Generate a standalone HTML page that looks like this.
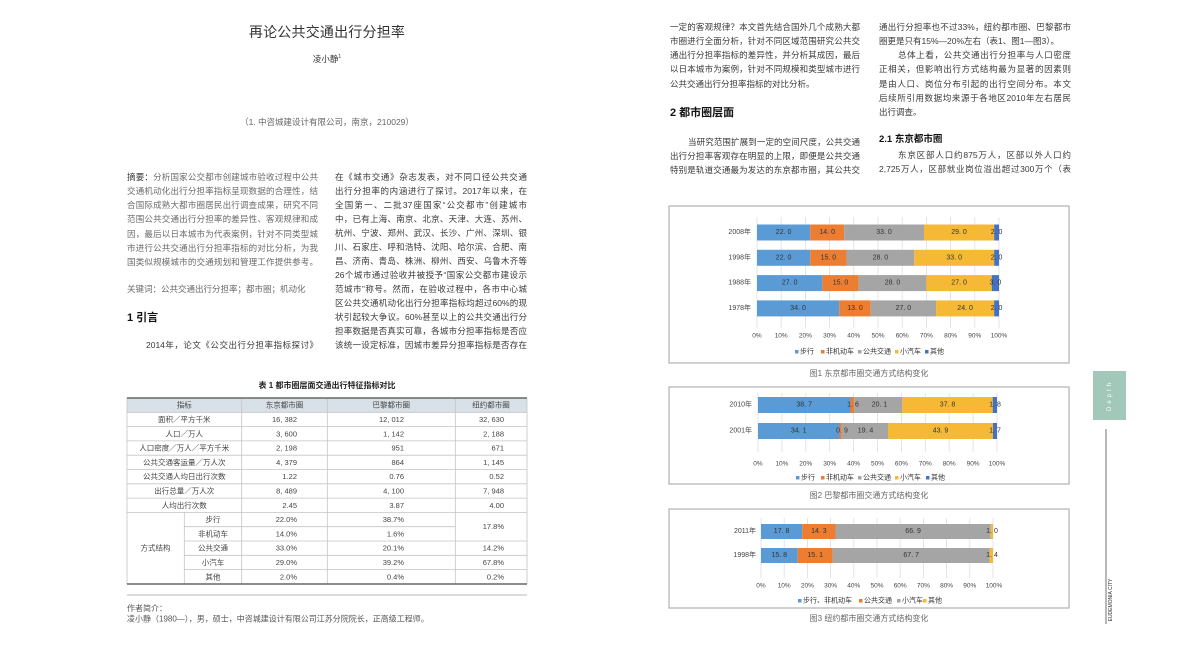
<!DOCTYPE html>
<html><head><meta charset="utf-8">
<style>
html,body{margin:0;padding:0;background:#fff;}
body{width:1196px;height:656px;position:relative;overflow:hidden;font-family:"Liberation Sans","Noto Sans CJK SC",sans-serif;color:#3a3a3a;}
.j{position:absolute;height:14px;line-height:14px;font-size:8.5px;text-align:justify;text-align-last:justify;overflow:hidden;white-space:normal;}
.l{position:absolute;height:14px;line-height:14px;font-size:8.5px;white-space:nowrap;}
.g{color:#6a6a6a;}
.h{position:absolute;height:14px;line-height:14px;font-weight:bold;color:#111;white-space:nowrap;}
svg{position:absolute;left:0;top:0;}
svg text{font-family:"Liberation Sans","Noto Sans CJK SC",sans-serif;}
</style></head><body>

<svg width="1196" height="656" viewBox="0 0 1196 656">
<!-- ================= TABLE ================= -->
<text x="327" y="388" font-size="8" font-weight="bold" fill="#222" text-anchor="middle">表 1  都市圈层面交通出行特征指标对比</text>
<rect x="127" y="398" width="400" height="14.3" fill="#d8e1e8"/>
<g stroke="#c4c4c4" stroke-width="0.8">
<line x1="127" y1="412.3" x2="527" y2="412.3"/>
<line x1="127" y1="426.6" x2="527" y2="426.6"/>
<line x1="127" y1="440.9" x2="527" y2="440.9"/>
<line x1="127" y1="455.2" x2="527" y2="455.2"/>
<line x1="127" y1="469.5" x2="527" y2="469.5"/>
<line x1="127" y1="483.8" x2="527" y2="483.8"/>
<line x1="127" y1="498.1" x2="527" y2="498.1"/>
<line x1="127" y1="512.4" x2="527" y2="512.4"/>
<line x1="184.3" y1="526.7" x2="455.3" y2="526.7"/>
<line x1="184.3" y1="541.0" x2="527" y2="541.0"/>
<line x1="184.3" y1="555.3" x2="527" y2="555.3"/>
<line x1="184.3" y1="569.6" x2="527" y2="569.6"/>
<line x1="127" y1="398" x2="127" y2="584"/>
<line x1="527" y1="398" x2="527" y2="584"/>
<line x1="241.7" y1="398" x2="241.7" y2="584"/>
<line x1="327.3" y1="398" x2="327.3" y2="584"/>
<line x1="455.3" y1="398" x2="455.3" y2="584"/>
<line x1="184.3" y1="512.4" x2="184.3" y2="584"/>
</g>
<line x1="127" y1="398" x2="527" y2="398" stroke="#666" stroke-width="1.5"/>
<line x1="127" y1="584" x2="527" y2="584" stroke="#666" stroke-width="1.5"/>
<g font-size="7.5" fill="#444" dominant-baseline="central">
<g text-anchor="middle">
<text x="184.3" y="405.15">指标</text>
<text x="284.5" y="405.15">东京都市圈</text>
<text x="391.3" y="405.15">巴黎都市圈</text>
<text x="491" y="405.15">纽约都市圈</text>
<text x="184.3" y="419.45">面积／平方千米</text>
<text x="184.3" y="433.75">人口／万人</text>
<text x="184.3" y="448.05">人口密度／万人／平方千米</text>
<text x="184.3" y="462.35">公共交通客运量／万人次</text>
<text x="184.3" y="476.65">公共交通人均日出行次数</text>
<text x="184.3" y="490.95">出行总量／万人次</text>
<text x="184.3" y="505.25">人均出行次数</text>
<text x="155.5" y="548.15">方式结构</text>
<text x="213" y="519.55">步行</text>
<text x="213" y="533.85">非机动车</text>
<text x="213" y="548.15">公共交通</text>
<text x="213" y="562.45">小汽车</text>
<text x="213" y="576.75">其他</text>
</g>
<g text-anchor="end">
<text x="297" y="419.45">16, 382</text><text x="404" y="419.45">12, 012</text><text x="504" y="419.45">32, 630</text>
<text x="297" y="433.75">3, 600</text><text x="404" y="433.75">1, 142</text><text x="504" y="433.75">2, 188</text>
<text x="297" y="448.05">2, 198</text><text x="404" y="448.05">951</text><text x="504" y="448.05">671</text>
<text x="297" y="462.35">4, 379</text><text x="404" y="462.35">864</text><text x="504" y="462.35">1, 145</text>
<text x="297" y="476.65">1.22</text><text x="404" y="476.65">0.76</text><text x="504" y="476.65">0.52</text>
<text x="297" y="490.95">8, 489</text><text x="404" y="490.95">4, 100</text><text x="504" y="490.95">7, 948</text>
<text x="297" y="505.25">2.45</text><text x="404" y="505.25">3.87</text><text x="504" y="505.25">4.00</text>
<text x="297" y="519.55">22.0%</text><text x="404" y="519.55">38.7%</text><text x="504" y="526.7">17.8%</text>
<text x="297" y="533.85">14.0%</text><text x="404" y="533.85">1.6%</text>
<text x="297" y="548.15">33.0%</text><text x="404" y="548.15">20.1%</text><text x="504" y="548.15">14.2%</text>
<text x="297" y="562.45">29.0%</text><text x="404" y="562.45">39.2%</text><text x="504" y="562.45">67.8%</text>
<text x="297" y="576.75">2.0%</text><text x="404" y="576.75">0.4%</text><text x="504" y="576.75">0.2%</text>
</g>
</g>
<line x1="127" y1="595" x2="527" y2="595" stroke="#dcdcdc" stroke-width="2"/>
<text x="127" y="611" font-size="8" fill="#555">作者简介：</text>
<text x="127" y="621.5" font-size="8" fill="#555">凌小静（1980—），男，硕士，中咨城建设计有限公司江苏分院院长，正高级工程师。</text>

<!-- ================= CHART 1 ================= -->
<rect x="669" y="206" width="400" height="157" fill="#fff" stroke="#b0b0b0" stroke-width="1.2"/>
<g stroke="#dedede" stroke-width="0.8">
<line x1="757" y1="217" x2="757" y2="328"/><line x1="781.2" y1="217" x2="781.2" y2="328"/><line x1="805.4" y1="217" x2="805.4" y2="328"/><line x1="829.6" y1="217" x2="829.6" y2="328"/><line x1="853.8" y1="217" x2="853.8" y2="328"/><line x1="878" y1="217" x2="878" y2="328"/><line x1="902.2" y1="217" x2="902.2" y2="328"/><line x1="926.4" y1="217" x2="926.4" y2="328"/><line x1="950.6" y1="217" x2="950.6" y2="328"/><line x1="974.8" y1="217" x2="974.8" y2="328"/><line x1="999" y1="217" x2="999" y2="328"/>
</g>
<g>
<rect x="757" y="224.5" width="53.24" height="16" fill="#5b9bd5"/><rect x="810.24" y="224.5" width="33.88" height="16" fill="#ed7d31"/><rect x="844.12" y="224.5" width="79.86" height="16" fill="#a5a5a5"/><rect x="923.98" y="224.5" width="70.18" height="16" fill="#f5b935"/><rect x="994.16" y="224.5" width="4.84" height="16" fill="#4472c4"/>
<rect x="757" y="249.8" width="53.24" height="16" fill="#5b9bd5"/><rect x="810.24" y="249.8" width="36.3" height="16" fill="#ed7d31"/><rect x="846.54" y="249.8" width="67.76" height="16" fill="#a5a5a5"/><rect x="914.3" y="249.8" width="79.86" height="16" fill="#f5b935"/><rect x="994.16" y="249.8" width="4.84" height="16" fill="#4472c4"/>
<rect x="757" y="275.1" width="65.34" height="16" fill="#5b9bd5"/><rect x="822.34" y="275.1" width="36.3" height="16" fill="#ed7d31"/><rect x="858.64" y="275.1" width="67.76" height="16" fill="#a5a5a5"/><rect x="926.4" y="275.1" width="65.34" height="16" fill="#f5b935"/><rect x="991.74" y="275.1" width="7.26" height="16" fill="#4472c4"/>
<rect x="757" y="300.4" width="82.28" height="16" fill="#5b9bd5"/><rect x="839.28" y="300.4" width="31.46" height="16" fill="#ed7d31"/><rect x="870.74" y="300.4" width="65.34" height="16" fill="#a5a5a5"/><rect x="936.08" y="300.4" width="58.08" height="16" fill="#f5b935"/><rect x="994.16" y="300.4" width="4.84" height="16" fill="#4472c4"/>
</g>
<g font-size="7" fill="#333" text-anchor="middle" dominant-baseline="central">
<text x="783.6" y="232.5">22. 0</text><text x="827.2" y="232.5">14. 0</text><text x="884" y="232.5">33. 0</text><text x="959" y="232.5">29. 0</text><text x="996.6" y="232.5">2. 0</text>
<text x="783.6" y="257.8">22. 0</text><text x="828.4" y="257.8">15. 0</text><text x="880.4" y="257.8">28. 0</text><text x="954.2" y="257.8">33. 0</text><text x="996.6" y="257.8">2. 0</text>
<text x="789.7" y="283.1">27. 0</text><text x="840.5" y="283.1">15. 0</text><text x="892.5" y="283.1">28. 0</text><text x="959.1" y="283.1">27. 0</text><text x="995.4" y="283.1">3. 0</text>
<text x="798.1" y="308.4">34. 0</text><text x="855" y="308.4">13. 0</text><text x="903.4" y="308.4">27. 0</text><text x="965.1" y="308.4">24. 0</text><text x="996.6" y="308.4">2. 0</text>
</g>
<g font-size="7" fill="#444" text-anchor="end" dominant-baseline="central">
<text x="751" y="232.5">2008年</text><text x="751" y="257.8">1998年</text><text x="751" y="283.1">1988年</text><text x="751" y="308.4">1978年</text>
</g>
<g font-size="6.5" fill="#444" text-anchor="middle" dominant-baseline="central">
<text x="757" y="336">0%</text><text x="781.2" y="336">10%</text><text x="805.4" y="336">20%</text><text x="829.6" y="336">30%</text><text x="853.8" y="336">40%</text><text x="878" y="336">50%</text><text x="902.2" y="336">60%</text><text x="926.4" y="336">70%</text><text x="950.6" y="336">80%</text><text x="974.8" y="336">90%</text><text x="999" y="336">100%</text>
</g>
<g font-size="7" fill="#333" dominant-baseline="central">
<rect x="795" y="350" width="3.5" height="3.5" fill="#5b9bd5"/><text x="800" y="352">步行</text>
<rect x="821" y="350" width="3.5" height="3.5" fill="#ed7d31"/><text x="826" y="352">非机动车</text>
<rect x="858" y="350" width="3.5" height="3.5" fill="#a5a5a5"/><text x="863" y="352">公共交通</text>
<rect x="895" y="350" width="3.5" height="3.5" fill="#f5b935"/><text x="900" y="352">小汽车</text>
<rect x="925" y="350" width="3.5" height="3.5" fill="#4472c4"/><text x="930" y="352">其他</text>
</g>
<text x="869" y="376" font-size="8" fill="#666" text-anchor="middle">图1  东京都市圈交通方式结构变化</text>

<!-- ================= CHART 2 ================= -->
<rect x="669" y="387" width="400" height="97" fill="#fff" stroke="#b0b0b0" stroke-width="1.2"/>
<g stroke="#dedede" stroke-width="0.8">
<line x1="758" y1="393" x2="758" y2="452"/><line x1="781.9" y1="393" x2="781.9" y2="452"/><line x1="805.8" y1="393" x2="805.8" y2="452"/><line x1="829.7" y1="393" x2="829.7" y2="452"/><line x1="853.6" y1="393" x2="853.6" y2="452"/><line x1="877.5" y1="393" x2="877.5" y2="452"/><line x1="901.4" y1="393" x2="901.4" y2="452"/><line x1="925.3" y1="393" x2="925.3" y2="452"/><line x1="949.2" y1="393" x2="949.2" y2="452"/><line x1="973.1" y1="393" x2="973.1" y2="452"/><line x1="997" y1="393" x2="997" y2="452"/>
</g>
<rect x="758" y="397" width="92.49" height="16" fill="#5b9bd5"/><rect x="850.49" y="397" width="3.83" height="16" fill="#ed7d31"/><rect x="854.32" y="397" width="48.04" height="16" fill="#a5a5a5"/><rect x="902.36" y="397" width="90.34" height="16" fill="#f5b935"/><rect x="992.7" y="397" width="4.3" height="16" fill="#4472c4"/>
<rect x="758" y="423" width="81.5" height="16" fill="#5b9bd5"/><rect x="839.5" y="423" width="2.15" height="16" fill="#ed7d31"/><rect x="841.65" y="423" width="46.37" height="16" fill="#a5a5a5"/><rect x="888.02" y="423" width="104.92" height="16" fill="#f5b935"/><rect x="992.94" y="423" width="4.06" height="16" fill="#4472c4"/>
<g font-size="7" fill="#333" text-anchor="middle" dominant-baseline="central">
<text x="804.2" y="405">38. 7</text><text x="853" y="405">1. 6</text><text x="879.5" y="405">20. 1</text><text x="947.5" y="405">37. 8</text><text x="995" y="405">1. 8</text>
<text x="798.7" y="431">34. 1</text><text x="842" y="431">0. 9</text><text x="865.5" y="431">19. 4</text><text x="940.5" y="431">43. 9</text><text x="995" y="431">1. 7</text>
</g>
<g font-size="7" fill="#444" text-anchor="end" dominant-baseline="central">
<text x="752" y="405">2010年</text><text x="752" y="431">2001年</text>
</g>
<g font-size="6.5" fill="#444" text-anchor="middle" dominant-baseline="central">
<text x="758" y="464">0%</text><text x="781.9" y="464">10%</text><text x="805.8" y="464">20%</text><text x="829.7" y="464">30%</text><text x="853.6" y="464">40%</text><text x="877.5" y="464">50%</text><text x="901.4" y="464">60%</text><text x="925.3" y="464">70%</text><text x="949.2" y="464">80%</text><text x="973.1" y="464">90%</text><text x="997" y="464">100%</text>
</g>
<g font-size="7" fill="#333" dominant-baseline="central">
<rect x="796" y="476" width="3.5" height="3.5" fill="#5b9bd5"/><text x="801" y="478">步行</text>
<rect x="821" y="476" width="3.5" height="3.5" fill="#ed7d31"/><text x="826" y="478">非机动车</text>
<rect x="858" y="476" width="3.5" height="3.5" fill="#a5a5a5"/><text x="863" y="478">公共交通</text>
<rect x="895" y="476" width="3.5" height="3.5" fill="#f5b935"/><text x="900" y="478">小汽车</text>
<rect x="926" y="476" width="3.5" height="3.5" fill="#4472c4"/><text x="931" y="478">其他</text>
</g>
<text x="869" y="498" font-size="8" fill="#666" text-anchor="middle">图2  巴黎都市圈交通方式结构变化</text>

<!-- ================= CHART 3 ================= -->
<rect x="669" y="509" width="400" height="99" fill="#fff" stroke="#b0b0b0" stroke-width="1.2"/>
<g stroke="#dedede" stroke-width="0.8">
<line x1="761" y1="518" x2="761" y2="578"/><line x1="784.2" y1="518" x2="784.2" y2="578"/><line x1="807.4" y1="518" x2="807.4" y2="578"/><line x1="830.6" y1="518" x2="830.6" y2="578"/><line x1="853.8" y1="518" x2="853.8" y2="578"/><line x1="877" y1="518" x2="877" y2="578"/><line x1="900.2" y1="518" x2="900.2" y2="578"/><line x1="923.4" y1="518" x2="923.4" y2="578"/><line x1="946.6" y1="518" x2="946.6" y2="578"/><line x1="969.8" y1="518" x2="969.8" y2="578"/><line x1="993" y1="518" x2="993" y2="578"/>
</g>
<rect x="761" y="524" width="41.3" height="15" fill="#5b9bd5"/><rect x="802.3" y="524" width="33.17" height="15" fill="#ed7d31"/><rect x="835.47" y="524" width="155.21" height="15" fill="#a5a5a5"/><rect x="990.68" y="524" width="2.32" height="15" fill="#f5b935"/>
<rect x="761" y="548" width="36.66" height="15" fill="#5b9bd5"/><rect x="797.66" y="548" width="35.03" height="15" fill="#ed7d31"/><rect x="832.69" y="548" width="157.06" height="15" fill="#a5a5a5"/><rect x="989.75" y="548" width="3.25" height="15" fill="#f5b935"/>
<g font-size="7" fill="#333" text-anchor="middle" dominant-baseline="central">
<text x="781.6" y="531.5">17. 8</text><text x="818.9" y="531.5">14. 3</text><text x="913.1" y="531.5">66. 9</text><text x="992" y="531.5">1. 0</text>
<text x="779.3" y="555.5">15. 8</text><text x="815.2" y="555.5">15. 1</text><text x="911.2" y="555.5">67. 7</text><text x="992" y="555.5">1. 4</text>
</g>
<g font-size="7" fill="#444" text-anchor="end" dominant-baseline="central">
<text x="756" y="531.5">2011年</text><text x="756" y="555.5">1998年</text>
</g>
<g font-size="6.5" fill="#444" text-anchor="middle" dominant-baseline="central">
<text x="761" y="586">0%</text><text x="784.2" y="586">10%</text><text x="807.4" y="586">20%</text><text x="830.6" y="586">30%</text><text x="853.8" y="586">40%</text><text x="877" y="586">50%</text><text x="900.2" y="586">60%</text><text x="923.4" y="586">70%</text><text x="946.6" y="586">80%</text><text x="969.8" y="586">90%</text><text x="994" y="586">100%</text>
</g>
<g font-size="7" fill="#333" dominant-baseline="central">
<rect x="798" y="599" width="3.5" height="3.5" fill="#5b9bd5"/><text x="803" y="601">步行、非机动车</text>
<rect x="859" y="599" width="3.5" height="3.5" fill="#ed7d31"/><text x="864" y="601">公共交通</text>
<rect x="897" y="599" width="3.5" height="3.5" fill="#a5a5a5"/><text x="902" y="601">小汽车</text>
<rect x="923" y="599" width="3.5" height="3.5" fill="#f5b935"/><text x="928" y="601">其他</text>
</g>
<text x="869" y="621" font-size="8" fill="#666" text-anchor="middle">图3  纽约都市圈交通方式结构变化</text>

<!-- ================= SIDE TAB ================= -->
<rect x="1093" y="371" width="33" height="49" fill="#a2c8b9"/>
<text transform="translate(1110,395.5) rotate(-90)" font-size="6" fill="#fff" text-anchor="middle" dominant-baseline="central" letter-spacing="3">Depth</text>
<line x1="1106" y1="429" x2="1106" y2="624" stroke="#8a8a8a" stroke-width="1.2"/>
<text transform="translate(1111,600) rotate(-90)" font-size="5" fill="#333" text-anchor="middle" dominant-baseline="central">EUDEMONIA CITY</text>
</svg>

<!-- ================= LEFT PAGE TEXT ================= -->
<div style="position:absolute;left:127px;top:22px;width:400px;text-align:center;font-size:14px;line-height:20px;color:#333;letter-spacing:0.2px;">再论公共交通出行分担率</div>
<div style="position:absolute;left:227px;top:51px;width:200px;text-align:center;font-size:8.5px;line-height:12px;color:#333;">凌小静<sup style="font-size:5px">1</sup></div>
<div style="position:absolute;left:177px;top:116px;width:300px;text-align:center;font-size:8.5px;line-height:12px;color:#666;">（1. 中咨城建设计有限公司，南京，210029）</div>

<div class="j g" style="left:127px;top:169.7px;width:191px;"><span style="color:#333">摘要：</span>分析国家公交都市创建城市验收过程中公共</div>
<div class="j g" style="left:127px;top:183.9px;width:191px;">交通机动化出行分担率指标呈现数据的合理性，结</div>
<div class="j g" style="left:127px;top:198.1px;width:191px;">合国际成熟大都市圈居民出行调查成果，研究不同</div>
<div class="j g" style="left:127px;top:212.3px;width:191px;">范围公共交通出行分担率的差异性、客观规律和成</div>
<div class="j g" style="left:127px;top:226.5px;width:191px;">因，最后以日本城市为代表案例，针对不同类型城</div>
<div class="j g" style="left:127px;top:240.7px;width:191px;">市进行公共交通出行分担率指标的对比分析，为我</div>
<div class="j g" style="left:127px;top:254.9px;width:191px;">国类似规模城市的交通规划和管理工作提供参考。</div>
<div class="l g" style="left:127px;top:282px;">关键词：公共交通出行分担率；都市圈；机动化</div>
<div class="h" style="left:127px;top:311px;font-size:11px;">1 引言</div>
<div class="j" style="left:146px;top:338px;width:172px;">2014年，论文《公交出行分担率指标探讨》</div>

<div class="j" style="left:335px;top:169.7px;width:192px;">在《城市交通》杂志发表，对不同口径公共交通</div>
<div class="j" style="left:335px;top:183.7px;width:192px;">出行分担率的内涵进行了探讨。2017年以来，在</div>
<div class="j" style="left:335px;top:197.8px;width:192px;">全国第一、二批37座国家“公交都市”创建城市</div>
<div class="j" style="left:335px;top:211.8px;width:192px;">中，已有上海、南京、北京、天津、大连、苏州、</div>
<div class="j" style="left:335px;top:225.8px;width:192px;">杭州、宁波、郑州、武汉、长沙、广州、深圳、银</div>
<div class="j" style="left:335px;top:239.9px;width:192px;">川、石家庄、呼和浩特、沈阳、哈尔滨、合肥、南</div>
<div class="j" style="left:335px;top:253.9px;width:192px;">昌、济南、青岛、株洲、柳州、西安、乌鲁木齐等</div>
<div class="j" style="left:335px;top:267.9px;width:192px;">26个城市通过验收并被授予“国家公交都市建设示</div>
<div class="j" style="left:335px;top:281.9px;width:192px;">范城市”称号。然而，在验收过程中，各市中心城</div>
<div class="j" style="left:335px;top:296px;width:192px;">区公共交通机动化出行分担率指标均超过60%的现</div>
<div class="j" style="left:335px;top:310px;width:192px;">状引起较大争议。60%甚至以上的公共交通出行分</div>
<div class="j" style="left:335px;top:324px;width:192px;">担率数据是否真实可靠，各城市分担率指标是否应</div>
<div class="j" style="left:335px;top:338.1px;width:192px;">该统一设定标准，因城市差异分担率指标是否存在</div>

<!-- ================= RIGHT PAGE TEXT ================= -->
<div class="j" style="left:670px;top:19.7px;width:190px;">一定的客观规律？本文首先结合国外几个成熟大都</div>
<div class="j" style="left:670px;top:33.9px;width:190px;">市圈进行全面分析，针对不同区域范围研究公共交</div>
<div class="j" style="left:670px;top:48.1px;width:190px;">通出行分担率指标的差异性，并分析其成因，最后</div>
<div class="j" style="left:670px;top:62.3px;width:190px;">以日本城市为案例，针对不同规模和类型城市进行</div>
<div class="l" style="left:670px;top:76.5px;">公共交通出行分担率指标的对比分析。</div>
<div class="h" style="left:670px;top:106px;font-size:11px;">2 都市圈层面</div>
<div class="j" style="left:688px;top:134.7px;width:172px;">当研究范围扩展到一定的空间尺度，公共交通</div>
<div class="j" style="left:670px;top:148.9px;width:190px;">出行分担率客观存在明显的上限，即便是公共交通</div>
<div class="j" style="left:670px;top:163.1px;width:190px;">特别是轨道交通最为发达的东京都市圈，其公共交</div>

<div class="j" style="left:879px;top:19.7px;width:192px;">通出行分担率也不过33%，纽约都市圈、巴黎都市</div>
<div class="l" style="left:879px;top:33.9px;">圈更是只有15%—20%左右（表1、图1—图3）。</div>
<div class="j" style="left:898px;top:48.1px;width:173px;">总体上看，公共交通出行分担率与人口密度</div>
<div class="j" style="left:879px;top:62.3px;width:192px;">正相关，但影响出行方式结构最为显著的因素则</div>
<div class="j" style="left:879px;top:76.5px;width:192px;">是由人口、岗位分布引起的出行空间分布。本文</div>
<div class="j" style="left:879px;top:90.7px;width:192px;">后续所引用数据均来源于各地区2010年左右居民</div>
<div class="l" style="left:879px;top:104.9px;">出行调查。</div>
<div class="h" style="left:879px;top:133px;font-size:9.5px;">2.1 东京都市圈</div>
<div class="j" style="left:898px;top:148px;width:173px;">东京区部人口约875万人，区部以外人口约</div>
<div class="j" style="left:879px;top:162px;width:192px;">2,725万人，区部就业岗位溢出超过300万个（表</div>

</body></html>
